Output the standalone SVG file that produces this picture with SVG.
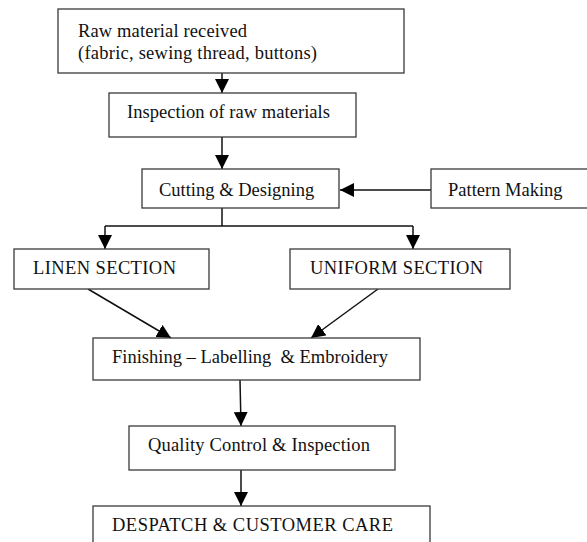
<svg xmlns="http://www.w3.org/2000/svg" width="587" height="542" viewBox="0 0 587 542">
<defs>
<style>
.box{fill:#fff;stroke:#3a3a3a;stroke-width:1.3}
.t{font-family:'Liberation Serif','Times New Roman',serif;font-size:18.5px;fill:#111}
.c{fill:none;stroke:#111;stroke-width:1.5}
</style>
<marker id="ah" markerUnits="userSpaceOnUse" markerWidth="14" markerHeight="14" viewBox="0 0 14 14" refX="14" refY="7" orient="auto">
<path d="M0,0 L14,7 L0,14 Z" fill="#000"/>
</marker>
</defs>
<rect width="587" height="542" fill="#fff"/>
<g id="connectors">
<line class="c" x1="222" y1="73" x2="222" y2="93" marker-end="url(#ah)"/>
<line class="c" x1="222" y1="137" x2="222" y2="169" marker-end="url(#ah)"/>
<line class="c" x1="432" y1="190" x2="340" y2="190" marker-end="url(#ah)"/>
<polyline class="c" points="222,208 222,226"/>
<polyline class="c" points="105,226 413,226"/>
<line class="c" x1="105" y1="226" x2="105" y2="249" marker-end="url(#ah)"/>
<line class="c" x1="413" y1="226" x2="413" y2="249" marker-end="url(#ah)"/>
<line class="c" x1="88" y1="289" x2="171" y2="338" marker-end="url(#ah)"/>
<line class="c" x1="378" y1="289" x2="311" y2="338" marker-end="url(#ah)"/>
<line class="c" x1="240" y1="380" x2="241" y2="426" marker-end="url(#ah)"/>
<line class="c" x1="241" y1="470" x2="241" y2="506" marker-end="url(#ah)"/>
</g>
<g id="raw">
<rect class="box" x="58" y="9" width="346" height="64"/>
<text class="t" x="78" y="37" textLength="169">Raw material received</text>
<text class="t" x="78" y="59" textLength="239">(fabric, sewing thread, buttons)</text>
</g>
<g id="inspection">
<rect class="box" x="109" y="93" width="247" height="44"/>
<text class="t" x="127" y="118" textLength="203">Inspection of raw materials</text>
</g>
<g id="cutting">
<rect class="box" x="142" y="169" width="197" height="39"/>
<text class="t" x="159" y="196">Cutting &amp; Designing</text>
</g>
<g id="pattern">
<rect class="box" x="431" y="169" width="160" height="39"/>
<text class="t" x="448" y="196">Pattern Making</text>
</g>
<g id="linen">
<rect class="box" x="14" y="249" width="195" height="40"/>
<text class="t" x="33" y="274" textLength="143">LINEN SECTION</text>
</g>
<g id="uniform">
<rect class="box" x="290" y="249" width="220" height="40"/>
<text class="t" x="310" y="274" textLength="173">UNIFORM SECTION</text>
</g>
<g id="finishing">
<rect class="box" x="93" y="338" width="327" height="42"/>
<text class="t" x="112" y="363" xml:space="preserve">Finishing – Labelling  &amp; Embroidery</text>
</g>
<g id="quality">
<rect class="box" x="129" y="426" width="266" height="44"/>
<text class="t" x="148" y="451" textLength="222">Quality Control &amp; Inspection</text>
</g>
<g id="despatch">
<rect class="box" x="93" y="506" width="337" height="45"/>
<text class="t" x="112" y="531" textLength="281">DESPATCH &amp; CUSTOMER CARE</text>
</g>
</svg>
